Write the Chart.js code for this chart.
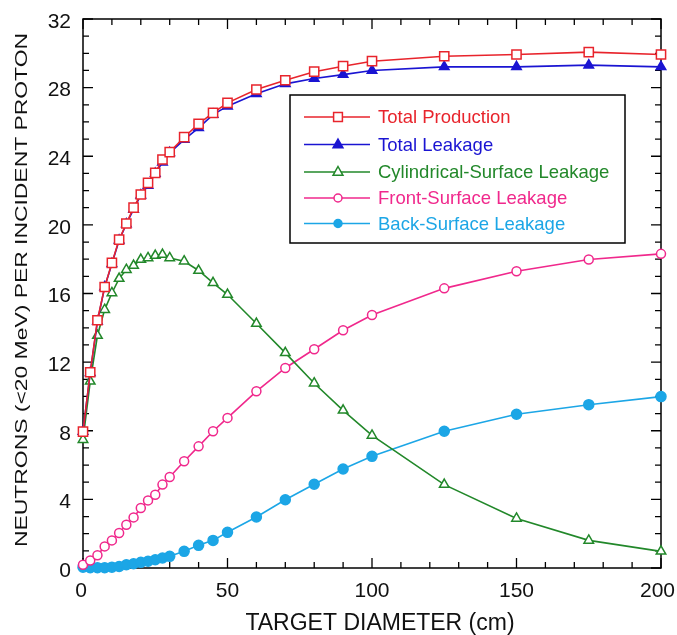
<!DOCTYPE html>
<html lang="en">
<head>
  <meta charset="UTF-8" />
  <title>Neutron leakage vs target diameter</title>
  <script src="https://cdn.jsdelivr.net/npm/chart.js"></script>
  <style>
    body {
      margin: 0;
      padding: 0;
      background: #fff;
    }

    .chart-container {
      width: 677px;
      height: 635px;
    }
  </style>
</head>
<body>
  <div class="chart-container">
    <canvas id="leakageChart"></canvas>
  </div>

  <script>
    // target diameter (cm)
    const diameters = [0, 2.5, 5, 7.5, 10, 12.5, 15, 17.5, 20, 22.5, 25, 27.5, 30, 35, 40, 45, 50, 60, 70, 80, 90, 100, 125, 150, 175, 200];

    // neutrons (<20 MeV) per incident proton
    const totalProduction = [7.95, 11.41, 14.44, 16.38, 17.78, 19.14, 20.08, 21.0, 21.77, 22.45, 23.03, 23.81, 24.24, 25.11, 25.89, 26.53, 27.11, 27.89, 28.43, 28.93, 29.25, 29.54, 29.83, 29.93, 30.07, 29.93];
    const totalLeakage = [7.95, 11.38, 14.38, 16.38, 17.74, 19.1, 20.05, 20.9, 21.73, 22.29, 22.99, 23.65, 24.2, 24.97, 25.66, 26.43, 26.92, 27.64, 28.22, 28.53, 28.76, 29.0, 29.21, 29.21, 29.31, 29.21];
    const cylindricalLeakage = [7.48, 10.88, 13.55, 15.06, 16.03, 16.87, 17.39, 17.63, 17.98, 18.07, 18.21, 18.27, 18.07, 17.88, 17.34, 16.62, 15.94, 14.25, 12.54, 10.77, 9.19, 7.73, 4.86, 2.89, 1.61, 0.97];
    const frontLeakage = [0.19, 0.44, 0.74, 1.26, 1.61, 2.04, 2.52, 2.95, 3.5, 3.94, 4.27, 4.86, 5.3, 6.22, 7.09, 7.97, 8.75, 10.3, 11.66, 12.75, 13.86, 14.75, 16.3, 17.3, 17.98, 18.31];
    const backLeakage = [0.05, 0.02, 0.02, 0.02, 0.05, 0.09, 0.19, 0.25, 0.33, 0.39, 0.48, 0.58, 0.68, 0.97, 1.32, 1.61, 2.08, 2.97, 3.98, 4.88, 5.77, 6.51, 7.97, 8.96, 9.52, 9.99];

    const seriesLabels = ['Total Production', 'Total Leakage', 'Cylindrical-Surface Leakage', 'Front-Surface Leakage', 'Back-Surface Leakage'];
    const xTitle = 'TARGET DIAMETER (cm)';
    const yTitle = 'NEUTRONS (<20 MeV) PER INCIDENT PROTON';

    const FONT = '"Liberation Sans", Arial, sans-serif';

    function toPoints(values) {
      return diameters.map((x, i) => ({ x: x, y: values[i] }));
    }

    function makeDataset(label, values, color, pointStyle, filled, radius) {
      return {
        label: label,
        data: toPoints(values),
        borderColor: color,
        backgroundColor: filled ? color : '#ffffff',
        pointStyle: pointStyle,
        pointRadius: radius,
        pointBorderWidth: 1.5,
        pointBackgroundColor: filled ? color : '#ffffff',
        pointBorderColor: color,
        borderWidth: 1.6,
        tension: 0,
        clip: false,
        _filled: filled
      };
    }

    // 凡例用のマーカー
    function drawMarker(ctx, style, x, y, r, color, filled) {
      ctx.save();
      ctx.lineWidth = 1.5;
      ctx.strokeStyle = color;
      ctx.fillStyle = filled ? color : '#ffffff';
      ctx.beginPath();
      if (style === 'rect') {
        ctx.rect(x - r * 0.8, y - r * 0.8, r * 1.6, r * 1.6);
      } else if (style === 'triangle') {
        ctx.moveTo(x, y - r);
        ctx.lineTo(x + r * 0.9, y + r * 0.6);
        ctx.lineTo(x - r * 0.9, y + r * 0.6);
        ctx.closePath();
      } else {
        ctx.arc(x, y, r, 0, Math.PI * 2);
      }
      ctx.fill();
      ctx.stroke();
      ctx.restore();
    }

    // 枠線・内向きの目盛り・軸ラベル・凡例ボックス
    const framePlugin = {
      id: 'frame',
      beforeDatasetsDraw(chart) {
        const { ctx, chartArea: a, scales } = chart;
        ctx.save();
        ctx.strokeStyle = '#000';
        ctx.lineWidth = 1.5;
        ctx.strokeRect(a.left, a.top, a.right - a.left, a.bottom - a.top);
        ctx.lineWidth = 1.3;
        for (let v = 0; v <= 200; v += 10) {
          const px = scales.x.getPixelForValue(v);
          const len = v % 50 === 0 ? 10 : 6;
          ctx.beginPath();
          ctx.moveTo(px, a.bottom);
          ctx.lineTo(px, a.bottom - len);
          ctx.moveTo(px, a.top);
          ctx.lineTo(px, a.top + len);
          ctx.stroke();
        }
        for (let v = 0; v <= 32; v += 1) {
          const py = scales.y.getPixelForValue(v);
          const len = v % 4 === 0 ? 10 : 6;
          ctx.beginPath();
          ctx.moveTo(a.left, py);
          ctx.lineTo(a.left + len, py);
          ctx.moveTo(a.right, py);
          ctx.lineTo(a.right - len, py);
          ctx.stroke();
        }

        // x目盛りラベル（右端はキャンバス内に収める）
        ctx.fillStyle = '#111';
        ctx.font = '21px ' + FONT;
        ctx.textBaseline = 'alphabetic';
        ctx.textAlign = 'center';
        scales.x.ticks.forEach(t => {
          let px = scales.x.getPixelForValue(t.value);
          const w = ctx.measureText(String(t.value)).width;
          if (px + w / 2 > chart.width - 2) px = chart.width - 2 - w / 2;
          if (t.value === 0) px -= 2;
          ctx.fillText(String(t.value), px, a.bottom + 29);
        });

        // x軸タイトル
        ctx.font = '23px ' + FONT;
        ctx.fillText(xTitle, 380, chart.height - 5);

        // y軸タイトル（縦長に圧縮）
        ctx.font = '16.5px ' + FONT;
        const tw = ctx.measureText(yTitle).width;
        ctx.translate(27, 290);
        ctx.rotate(-Math.PI / 2);
        ctx.scale(514 / tw, 1);
        ctx.fillText(yTitle, 0, 0);
        ctx.restore();
      },
      afterDraw(chart) {
        const { ctx, chartArea: a } = chart;
        const boxLeft = a.left + 207;
        const boxTop = a.top + 76;
        ctx.save();
        ctx.fillStyle = '#fff';
        ctx.fillRect(boxLeft, boxTop, 335, 148);
        ctx.strokeStyle = '#000';
        ctx.lineWidth = 1.5;
        ctx.strokeRect(boxLeft, boxTop, 335, 148);
        ctx.font = '18.5px ' + FONT;
        ctx.textBaseline = 'middle';
        const rowY = [22, 49.5, 77, 103, 128.5];
        chart.data.datasets.forEach((ds, i) => {
          const y = boxTop + rowY[i];
          ctx.strokeStyle = ds.borderColor;
          ctx.lineWidth = 1.6;
          ctx.beginPath();
          ctx.moveTo(boxLeft + 14, y);
          ctx.lineTo(boxLeft + 80, y);
          ctx.stroke();
          const r = ds.pointStyle === 'circle' ? 4 : 5.5;
          drawMarker(ctx, ds.pointStyle, boxLeft + 48, y, r, ds.borderColor, ds._filled);
          ctx.fillStyle = ds.borderColor;
          ctx.fillText(ds.label, boxLeft + 88, y + 1);
        });
        ctx.restore();
      }
    };

    const ctx = document.getElementById('leakageChart').getContext('2d');
    new Chart(ctx, {
      type: 'line',
      data: {
        datasets: [
          makeDataset(seriesLabels[0], totalProduction, '#e8242c', 'rect', false, 6.5),
          makeDataset(seriesLabels[1], totalLeakage, '#1a14d2', 'triangle', true, 5.5),
          makeDataset(seriesLabels[2], cylindricalLeakage, '#22882a', 'triangle', false, 5.5),
          makeDataset(seriesLabels[3], frontLeakage, '#f0288c', 'circle', false, 4.5),
          makeDataset(seriesLabels[4], backLeakage, '#1ca6e6', 'circle', true, 5)
        ]
      },
      options: {
        responsive: true,
        maintainAspectRatio: false,
        animation: false,
        layout: {
          padding: { top: 19, right: 16, left: 0, bottom: 0 }
        },
        plugins: {
          legend: { display: false },
          tooltip: { enabled: false }
        },
        scales: {
          x: {
            type: 'linear',
            min: 0,
            max: 200,
            grid: { display: false },
            border: { display: false },
            ticks: {
              stepSize: 50,
              display: false
            },
            afterFit(scale) {
              scale.height = 67;
              scale.paddingLeft = 0;
              scale.paddingRight = 0;
            }
          },
          y: {
            min: 0,
            max: 32,
            grid: { display: false },
            border: { display: false },
            ticks: {
              stepSize: 4,
              color: '#111',
              padding: 4,
              labelOffset: 3,
              font: { family: FONT, size: 21 }
            },
            afterFit(scale) {
              scale.width = 83;
              scale.paddingTop = 0;
              scale.paddingBottom = 0;
            }
          }
        }
      },
      plugins: [framePlugin]
    });
  </script>
</body>
</html>
